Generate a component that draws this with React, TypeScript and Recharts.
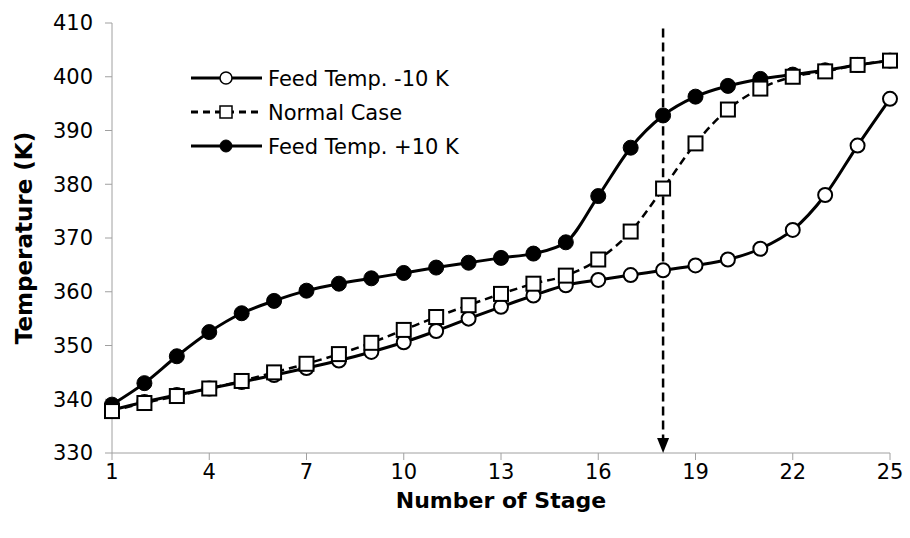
import React from "react";
import {
  LineChart,
  Line,
  XAxis,
  YAxis,
  ReferenceLine,
  ReferenceDot,
} from "recharts";

const stages = [1, 2, 3, 4, 5, 6, 7, 8, 9, 10, 11, 12, 13, 14, 15, 16, 17, 18, 19, 20, 21, 22, 23, 24, 25];
const feedMinus10 = [338.0, 339.5, 340.8, 342.0, 343.2, 344.5, 345.8, 347.2, 348.8, 350.6, 352.7, 355.0, 357.2, 359.3, 361.2, 362.2, 363.1, 364.0, 364.9, 366.0, 368.0, 371.5, 378.0, 387.2, 395.9];
const normalCase = [337.8, 339.3, 340.6, 342.0, 343.4, 345.0, 346.6, 348.4, 350.5, 352.9, 355.3, 357.5, 359.6, 361.5, 363.0, 366.0, 371.2, 379.2, 387.6, 393.9, 397.8, 400.0, 401.0, 402.2, 403.0];
const feedPlus10 = [339.0, 343.0, 348.0, 352.5, 356.0, 358.3, 360.2, 361.5, 362.5, 363.5, 364.5, 365.4, 366.3, 367.1, 369.2, 377.8, 386.8, 392.8, 396.3, 398.3, 399.6, 400.4, 401.2, 402.2, 403.0];
const xTicks = [1, 4, 7, 10, 13, 16, 19, 22, 25];
const yTicks = [330, 340, 350, 360, 370, 380, 390, 400, 410];
const legendLabels = ["Feed Temp. -10 K", "Normal Case", "Feed Temp. +10 K"];
const markedStage = 18;

const data = stages.map((s, i) => ({
  stage: s,
  minus: feedMinus10[i],
  normal: normalCase[i],
  plus: feedPlus10[i],
}));

const font = "DejaVu Sans, sans-serif";

const SquareDot = (props: any) => {
  const { cx, cy, index } = props;
  if (cx == null || cy == null) return null;
  return (
    <rect
      key={`sq-${index}`}
      x={cx - 7}
      y={cy - 7}
      width={14}
      height={14}
      fill="#fff"
      stroke="#000"
      strokeWidth={2}
    />
  );
};

const ArrowHead = (props: any) => {
  const { cx, cy } = props;
  if (cx == null || cy == null) return null;
  return <path d={`M${cx - 6},${cy - 15} L${cx + 6},${cy - 15} L${cx},${cy} Z`} fill="#000" />;
};

// legend sits inside the plot, top-left, like the original
const LegendBox = () => {
  const kinds = ["open", "square", "filled"];
  return (
    <svg width={320} height={110} style={{ position: "absolute", left: 188, top: 66 }}>
      {legendLabels.map((label, i) => {
        const y = 12 + i * 34;
        const kind = kinds[i];
        return (
          <g key={label}>
            <line
              x1={3}
              x2={74}
              y1={y}
              y2={y}
              stroke="#000"
              strokeWidth={3}
              strokeDasharray={kind === "square" ? "7 5" : undefined}
            />
            {kind === "open" && <circle cx={38} cy={y} r={6} fill="#fff" stroke="#000" strokeWidth={1.5} />}
            {kind === "filled" && <circle cx={38} cy={y} r={6} fill="#000" stroke="#000" />}
            {kind === "square" && (
              <rect x={32} y={y - 6} width={12} height={12} fill="#fff" stroke="#000" strokeWidth={1.5} />
            )}
            <text x={80} y={y + 8} fontSize={21} fontFamily={font} fill="#000">
              {label}
            </text>
          </g>
        );
      })}
    </svg>
  );
};

export default function App() {
  return (
    <div style={{ position: "absolute", left: 0, top: 0, width: 910, height: 538, background: "#fff" }}>
      <LineChart
        width={910}
        height={538}
        data={data}
        margin={{ top: 23, right: 20, left: 0, bottom: 0 }}
      >
        <XAxis
          dataKey="stage"
          type="number"
          domain={[1, 25]}
          ticks={xTicks}
          height={85}
          stroke="#a0a0a0"
          tickSize={7}
          tick={{ fill: "#000", fontSize: 21, fontFamily: font }}
          tickMargin={4}
          label={{
            value: "Number of Stage",
            position: "insideBottom",
            offset: 30,
            fill: "#000",
            fontSize: 22,
            fontWeight: "bold",
            fontFamily: font,
          }}
        />
        <XAxis xAxisId="top" dataKey="stage" type="number" domain={[1, 25]} orientation="top" tick={false} tickLine={false} stroke="#a0a0a0" height={0} />
        <YAxis
          domain={[330, 410]}
          ticks={yTicks}
          width={112}
          stroke="#a0a0a0"
          tickSize={7}
          tick={{ fill: "#000", fontSize: 21, fontFamily: font }}
          tickMargin={12}
          label={{
            value: "Temperature  (K)",
            angle: -90,
            position: "insideLeft",
            offset: 24,
            style: { textAnchor: "middle" },
            fill: "#000",
            fontSize: 23,
            fontWeight: "bold",
            fontFamily: font,
          }}
        />
        <YAxis yAxisId="right" orientation="right" domain={[330, 410]} tick={false} tickLine={false} stroke="#a0a0a0" width={0} />
        <ReferenceLine
          segment={[
            { x: markedStage, y: 409 },
            { x: markedStage, y: 332 },
          ]}
          stroke="#000"
          strokeWidth={2.5}
          strokeDasharray="9 5"
        />
        <ReferenceDot x={markedStage} y={330} shape={ArrowHead} />
        <Line
          type="monotone"
          dataKey="minus"
          stroke="#000"
          strokeWidth={3}
          dot={{ r: 7, fill: "#fff", stroke: "#000", strokeWidth: 2 }}
          isAnimationActive={false}
        />
        <Line
          type="monotone"
          dataKey="plus"
          stroke="#000"
          strokeWidth={3}
          dot={{ r: 7.5, fill: "#000", stroke: "#000", strokeWidth: 1 }}
          isAnimationActive={false}
        />
        <Line
          type="monotone"
          dataKey="normal"
          stroke="#000"
          strokeWidth={2.5}
          strokeDasharray="8 5"
          dot={SquareDot}
          isAnimationActive={false}
        />
      </LineChart>
      <LegendBox />
    </div>
  );
}
